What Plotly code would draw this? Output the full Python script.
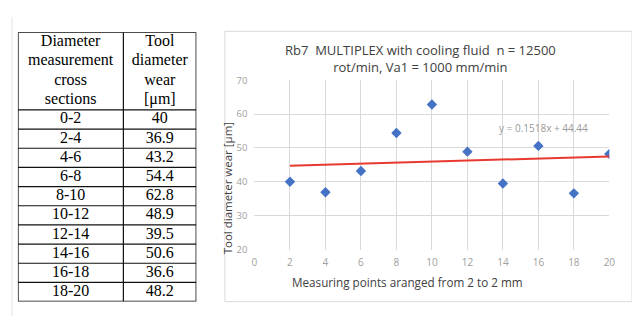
import plotly.graph_objects as go
import numpy as np

# ---- data ----
sections = ["0-2", "2-4", "4-6", "6-8", "8-10", "10-12", "12-14", "14-16", "16-18", "18-20"]
wear = [40, 36.9, 43.2, 54.4, 62.8, 48.9, 39.5, 50.6, 36.6, 48.2]
wear_text = ["40", "36.9", "43.2", "54.4", "62.8", "48.9", "39.5", "50.6", "36.6", "48.2"]
points = [2, 4, 6, 8, 10, 12, 14, 16, 18, 20]
header_col1 = ["Diameter", "measurement", "cross", "sections"]
header_col2 = ["Tool", "diameter", "wear", "[μm]"]
x_ticks = [0, 2, 4, 6, 8, 10, 12, 14, 16, 18, 20]
y_ticks = [20, 30, 40, 50, 60, 70]

# the page body keeps its default 8px margin, so the figure is offset by 8px;
# size it to the visible area and position items in screen pixels
OFF = 8
W, H = 640 - OFF, 322 - OFF
def px(x):
    return (x - OFF) / W
def py(y):
    return 1 - (y - OFF) / H

# table geometry (in table-axis units = pixels)
col_w = [107, 74]
head_h, row_h, line_h = 81, 20, 20
n_rows = len(sections)
tab_w = sum(col_w)
tab_h = head_h + row_h * n_rows
col_cx = [col_w[0] / 2, col_w[0] + col_w[1] / 2]

slope, intercept = np.polyfit(points, wear, 1)
trend_x = [points[0], points[-1]]
trend_y = [slope * v + intercept for v in trend_x]

fig = go.Figure()

# ---- table as text on its own axes ----
head_y = [head_h / 2 + (i - (len(header_col1) - 1) / 2) * line_h for i in range(len(header_col1))]
row_y = [head_h + row_h * i + row_h / 2 for i in range(n_rows)]
tfont = dict(family="Liberation Serif", size=16, color="black")
fig.add_trace(go.Scatter(
    x=[col_cx[0]] * len(header_col1) + [col_cx[1]] * len(header_col2),
    y=head_y + head_y, text=header_col1 + header_col2, mode="text",
    textposition="middle center", textfont=tfont,
    xaxis="x2", yaxis="y2", showlegend=False, hoverinfo="skip"))
fig.add_trace(go.Scatter(
    x=[col_cx[0]] * n_rows + [col_cx[1]] * n_rows,
    y=row_y + row_y, text=sections + wear_text, mode="text",
    textposition="middle center", textfont=tfont,
    xaxis="x2", yaxis="y2", showlegend=False, hoverinfo="skip"))

# ---- chart ----
fig.add_trace(go.Scatter(
    x=points, y=wear, mode="markers",
    marker=dict(symbol="diamond", size=8, color="#4472C4"),
    showlegend=False, hoverinfo="skip"))
fig.add_trace(go.Scatter(
    x=trend_x, y=trend_y, mode="lines",
    line=dict(color="#E8392F", width=2),
    showlegend=False, hoverinfo="skip"))

shapes = [
    dict(type="rect", xref="paper", yref="paper",
         x0=px(225), x1=px(638), y0=py(307), y1=py(25),
         line=dict(color="#D9D9D9", width=1), layer="below"),
    dict(type="line", xref="paper", yref="paper",
         x0=px(9), x1=px(9), y0=py(10), y1=0,
         line=dict(color="#E3E3E3", width=1)),
]
# table rules
for yy in [head_h + row_h * i for i in range(n_rows)]:
    shapes.append(dict(type="line", xref="x2", yref="y2", x0=0, x1=tab_w, y0=yy, y1=yy,
                       line=dict(color="#111111", width=1.2)))
shapes.append(dict(type="line", xref="x2", yref="y2", x0=col_w[0], x1=col_w[0], y0=0, y1=tab_h,
                   line=dict(color="#111111", width=1.2)))
shapes.append(dict(type="rect", xref="x2", yref="y2", x0=0, x1=tab_w, y0=0, y1=tab_h,
                   line=dict(color="#111111", width=1.5)))

fig.update_layout(
    width=W, height=H,
    margin=dict(l=0, r=0, t=0, b=0),
    paper_bgcolor="white", plot_bgcolor="white",
    showlegend=False,
    xaxis=dict(domain=[px(255), px(615)], range=[0, 20], tickvals=x_ticks,
               showgrid=True, gridcolor="#D9D9D9", gridwidth=1, zeroline=False,
               showline=False, ticks="", ticklabelstandoff=5,
               tickfont=dict(family="Open Sans", size=10, color="#A0A0A0")),
    yaxis=dict(domain=[py(252.7), py(76)], range=[20, 70], tickvals=y_ticks,
               showgrid=True, gridcolor="#D9D9D9", gridwidth=1, zeroline=False,
               showline=False, ticks="", ticklabelstandoff=6,
               tickfont=dict(family="Open Sans", size=9.5, color="#A0A0A0")),
    xaxis2=dict(domain=[px(15), px(196)], range=[0, tab_w], visible=False,
                anchor="y2", fixedrange=True),
    yaxis2=dict(domain=[py(307), py(26)], range=[tab_h, 0], visible=False,
                anchor="x2", fixedrange=True),
    shapes=shapes,
    annotations=[
        dict(text="Rb7  MULTIPLEX with cooling fluid  n = 12500<br>rot/min, Va1 = 1000 mm/min",
             xref="paper", yref="paper", x=px(423), y=py(53.5), showarrow=False,
             xanchor="center", yanchor="middle",
             font=dict(family="Open Sans", size=13, color="#404040")),
        dict(text="Measuring points aranged from 2 to 2 mm",
             xref="paper", yref="paper", x=px(410), y=py(287), showarrow=False,
             xanchor="center", yanchor="middle",
             font=dict(family="Open Sans", size=11.7, color="#404040")),
        dict(text="Tool diameter wear [μm]", textangle=-90,
             xref="paper", yref="paper", x=px(228), y=py(189), showarrow=False,
             xanchor="center", yanchor="middle",
             font=dict(family="Open Sans", size=11.5, color="#404040")),
        dict(text="y = 0.1518x + 44.44",
             xref="paper", yref="paper", x=px(548), y=py(126), showarrow=False,
             xanchor="center", yanchor="middle",
             font=dict(family="Open Sans", size=10, color="#9A9A9A")),
    ],
)

fig.write_html("out.html")
